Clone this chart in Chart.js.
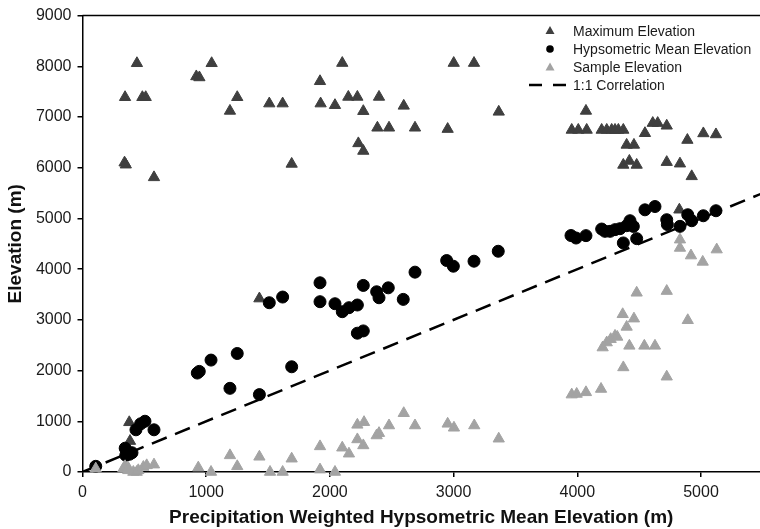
<!DOCTYPE html>
<html>
<head>
<meta charset="utf-8">
<script src="https://cdn.jsdelivr.net/npm/chart.js@4/dist/chart.umd.min.js"></script>
<style>
  html, body { margin: 0; padding: 0; background: #fff; }
  #wrap { width: 760px; height: 529px; }
</style>
</head>
<body>
<div id="wrap"><canvas id="elevChart" width="760" height="529"></canvas></div>
<script>
// Maximum elevation per basin (m)
const maxX = [344, 484, 511, 440, 920, 945, 1044, 1192, 1251, 340, 350, 578, 378, 384,
  1430, 1510, 1618, 1691, 1920, 1925, 2041, 2100, 2149, 2222, 2270, 2397, 2384, 2478,
  2597, 2688, 2230, 2270, 2952, 3001, 3165, 3365, 4070, 3955, 4008, 4076, 4197, 4238,
  4278, 4305, 4332, 4372, 4547, 4610, 4650, 4723, 4890, 5019, 5121, 4399, 4458, 4372,
  4421, 4480, 4723, 4830, 4925, 4825];
const maxY = [7390, 7390, 7390, 8060, 7800, 7780, 8060, 7120, 7390, 6100, 6060, 5810, 980, 610,
  3420, 7265, 7265, 6075, 7705, 7265, 7233, 8064, 7396, 7396, 7115, 7396, 6788, 6788,
  7220, 6788, 6480, 6330, 6762, 8064, 8064, 7102, 7120, 6745, 6745, 6745, 6745, 6745,
  6745, 6745, 6745, 6745, 6680, 6880, 6880, 6827, 6546, 6676, 6656, 6450, 6450, 6055,
  6134, 6055, 6110, 6080, 5830, 5172];

// Hypsometric mean elevation (m)
const meanX = [107, 345, 360, 380, 400, 350, 432, 470, 505, 578, 928, 944, 1039, 1251, 1192,
  1430, 1691, 1510, 1618, 1920, 1920, 2041, 2100, 2154, 2222, 2222, 2270, 2270, 2378,
  2397, 2472, 2593, 2688, 2944, 2998, 3165, 3361, 3949, 3990, 4070, 4197, 4224, 4265,
  4305, 4345, 4399, 4426, 4453, 4372, 4480, 4547, 4628, 4723, 4728, 4830, 4893, 4925,
  5019, 5121];
const meanY = [112, 470, 400, 350, 380, 330, 832, 950, 1001, 832, 1951, 1984, 2207, 2337, 1650,
  1526, 2075, 3338, 3450, 3731, 3358, 3318, 3161, 3240, 3293, 2737, 2782, 3679, 3554,
  3436, 3632, 3404, 3941, 4170, 4058, 4157, 4353, 4663, 4614, 4661, 4791, 4746, 4746,
  4779, 4798, 4857, 4955, 4843, 4517, 4602, 5170, 5235, 4975, 4880, 4844, 5073, 4955,
  5053, 5152];

// Sample elevation (m)
const sampleX = [107, 330, 344, 370, 370, 411, 438, 451, 492, 519, 578, 936, 1039, 1192,
  1251, 1430, 1516, 1618, 1691, 1920, 1920, 2041, 2100, 2154, 2222, 2222, 2276, 2270,
  2378, 2397, 2478, 2597, 2688, 2952, 3003, 3167, 3365, 3955, 3995, 4070, 4192, 4205,
  4238, 4270, 4305, 4323, 4421, 4542, 4628, 4372, 4723, 4367, 4458, 4399, 4893, 4480,
  4723, 4830, 4830, 4919, 5014, 5127];
const sampleY = [66, 66, 112, 33, 79, 0, 0, 33, 98, 131, 145, 86, 0, 328,
  112, 300, 0, 0, 262, 505, 47, 0, 479, 361, 642, 930, 982, 524,
  720, 766, 917, 1159, 917, 950, 872, 917, 656, 1526, 1539, 1571, 1637, 2454,
  2553, 2619, 2684, 2664, 2488, 2488, 2488, 2062, 1879, 3110, 3024, 2861, 2992, 3534,
  3568, 4582, 4418, 4268, 4143, 4386];

// 1:1 reference line
const corrX = [0, 5500];
const corrY = [0, 5500];

const xTicks = [0, 1000, 2000, 3000, 4000, 5000];
const yTicks = [0, 1000, 2000, 3000, 4000, 5000, 6000, 7000, 8000, 9000];

const legendOrder = ['Maximum Elevation', 'Hypsometric Mean Elevation', 'Sample Elevation', '1:1 Correlation'];

const DARK = '#3f3f3f';
const LIGHT = '#a3a3a3';
const FONT = "'Liberation Sans', Arial, sans-serif";

const toPoints = (xs, ys) => xs.map((x, i) => ({ x: x, y: ys[i] }));

// top frame line plus the legend box in the upper right
const frameAndLegend = {
  id: 'frameAndLegend',
  afterDraw(chart) {
    const ctx = chart.ctx;
    const area = chart.chartArea;
    ctx.save();
    ctx.strokeStyle = '#000';
    ctx.lineWidth = 1.5;
    ctx.beginPath();
    ctx.moveTo(area.left, area.top);
    ctx.lineTo(area.right, area.top);
    ctx.stroke();

    const markX = 550, textX = 573;
    const rowY = [31, 49, 67.5, 85];
    ctx.font = '14px ' + FONT;
    ctx.textBaseline = 'middle';
    ctx.textAlign = 'left';
    legendOrder.forEach((label, i) => {
      const ds = chart.data.datasets.find(d => d.label === label);
      const y = rowY[i];
      if (ds.showLine) {
        ctx.strokeStyle = ds.borderColor;
        ctx.lineWidth = ds.borderWidth;
        ctx.setLineDash([13, 11]);
        ctx.beginPath();
        ctx.moveTo(529, y);
        ctx.lineTo(570, y);
        ctx.stroke();
        ctx.setLineDash([]);
      } else {
        ctx.fillStyle = ds.backgroundColor;
        ctx.beginPath();
        if (ds.pointStyle === 'triangle') {
          ctx.moveTo(markX, y - 5);
          ctx.lineTo(markX + 4.5, y + 3);
          ctx.lineTo(markX - 4.5, y + 3);
        } else {
          ctx.arc(markX, y, 3.8, 0, Math.PI * 2);
        }
        ctx.closePath();
        ctx.fill();
      }
      ctx.fillStyle = '#1a1a1a';
      ctx.fillText(label, textX, y + 1);
    });
    ctx.restore();
  }
};

const axisCommon = {
  type: 'linear',
  grid: { drawOnChartArea: false, drawTicks: true, tickLength: 5, color: '#000', lineWidth: 1.5 },
  border: { display: true, color: '#000', width: 1.5 },
};

const ctx = document.getElementById('elevChart').getContext('2d');
const chart = new Chart(ctx, {
  type: 'scatter',
  data: {
    datasets: [
      {
        label: 'Sample Elevation',
        data: toPoints(sampleX, sampleY),
        pointStyle: 'triangle',
        pointRadius: 6.5,
        backgroundColor: LIGHT,
        borderColor: LIGHT,
        borderWidth: 1,
        clip: false,
        order: 0
      },
      {
        label: 'Hypsometric Mean Elevation',
        data: toPoints(meanX, meanY),
        pointStyle: 'circle',
        pointRadius: 6,
        backgroundColor: '#000',
        borderColor: '#000',
        borderWidth: 1,
        clip: false,
        order: 1
      },
      {
        label: '1:1 Correlation',
        data: toPoints(corrX, corrY),
        showLine: true,
        borderColor: '#000',
        borderWidth: 2.5,
        borderDash: [16, 9],
        pointRadius: 0,
        order: 2
      },
      {
        label: 'Maximum Elevation',
        data: toPoints(maxX, maxY),
        pointStyle: 'triangle',
        pointRadius: 6.5,
        backgroundColor: DARK,
        borderColor: DARK,
        borderWidth: 1,
        clip: false,
        order: 3
      }
    ]
  },
  options: {
    responsive: false,
    animation: false,
    devicePixelRatio: 1,
    layout: { autoPadding: false, padding: { top: 13, left: 0, right: 0, bottom: 0 } },
    plugins: { legend: { display: false }, tooltip: { enabled: false } },
    scales: {
      x: {
        ...axisCommon,
        position: 'bottom',
        min: 0,
        max: 5477,
        afterFit: s => { s.height = 57; s.paddingLeft = 0; s.paddingRight = 0; },
        afterBuildTicks: s => { s.ticks = xTicks.map(v => ({ value: v })); },
        ticks: { color: '#1a1a1a', padding: 6, font: { family: FONT, size: 16 }, callback: v => String(v) },
        title: {
          display: true,
          text: 'Precipitation Weighted Hypsometric Mean Elevation (m)',
          color: '#111',
          padding: { top: 0, bottom: 0 },
          font: { family: FONT, size: 19, weight: 'bold' }
        }
      },
      y: {
        ...axisCommon,
        position: 'left',
        min: 0,
        max: 9000,
        afterFit: s => { s.width = 82.5; },
        afterBuildTicks: s => { s.ticks = yTicks.map(v => ({ value: v })); },
        ticks: { color: '#1a1a1a', padding: 6, font: { family: FONT, size: 16 }, callback: v => String(v) },
        title: {
          display: true,
          text: 'Elevation (m)',
          color: '#111',
          padding: { top: 4, bottom: 0 },
          font: { family: FONT, size: 19, weight: 'bold' }
        }
      }
    }
  },
  plugins: [frameAndLegend]
});
</script>
</body>
</html>
